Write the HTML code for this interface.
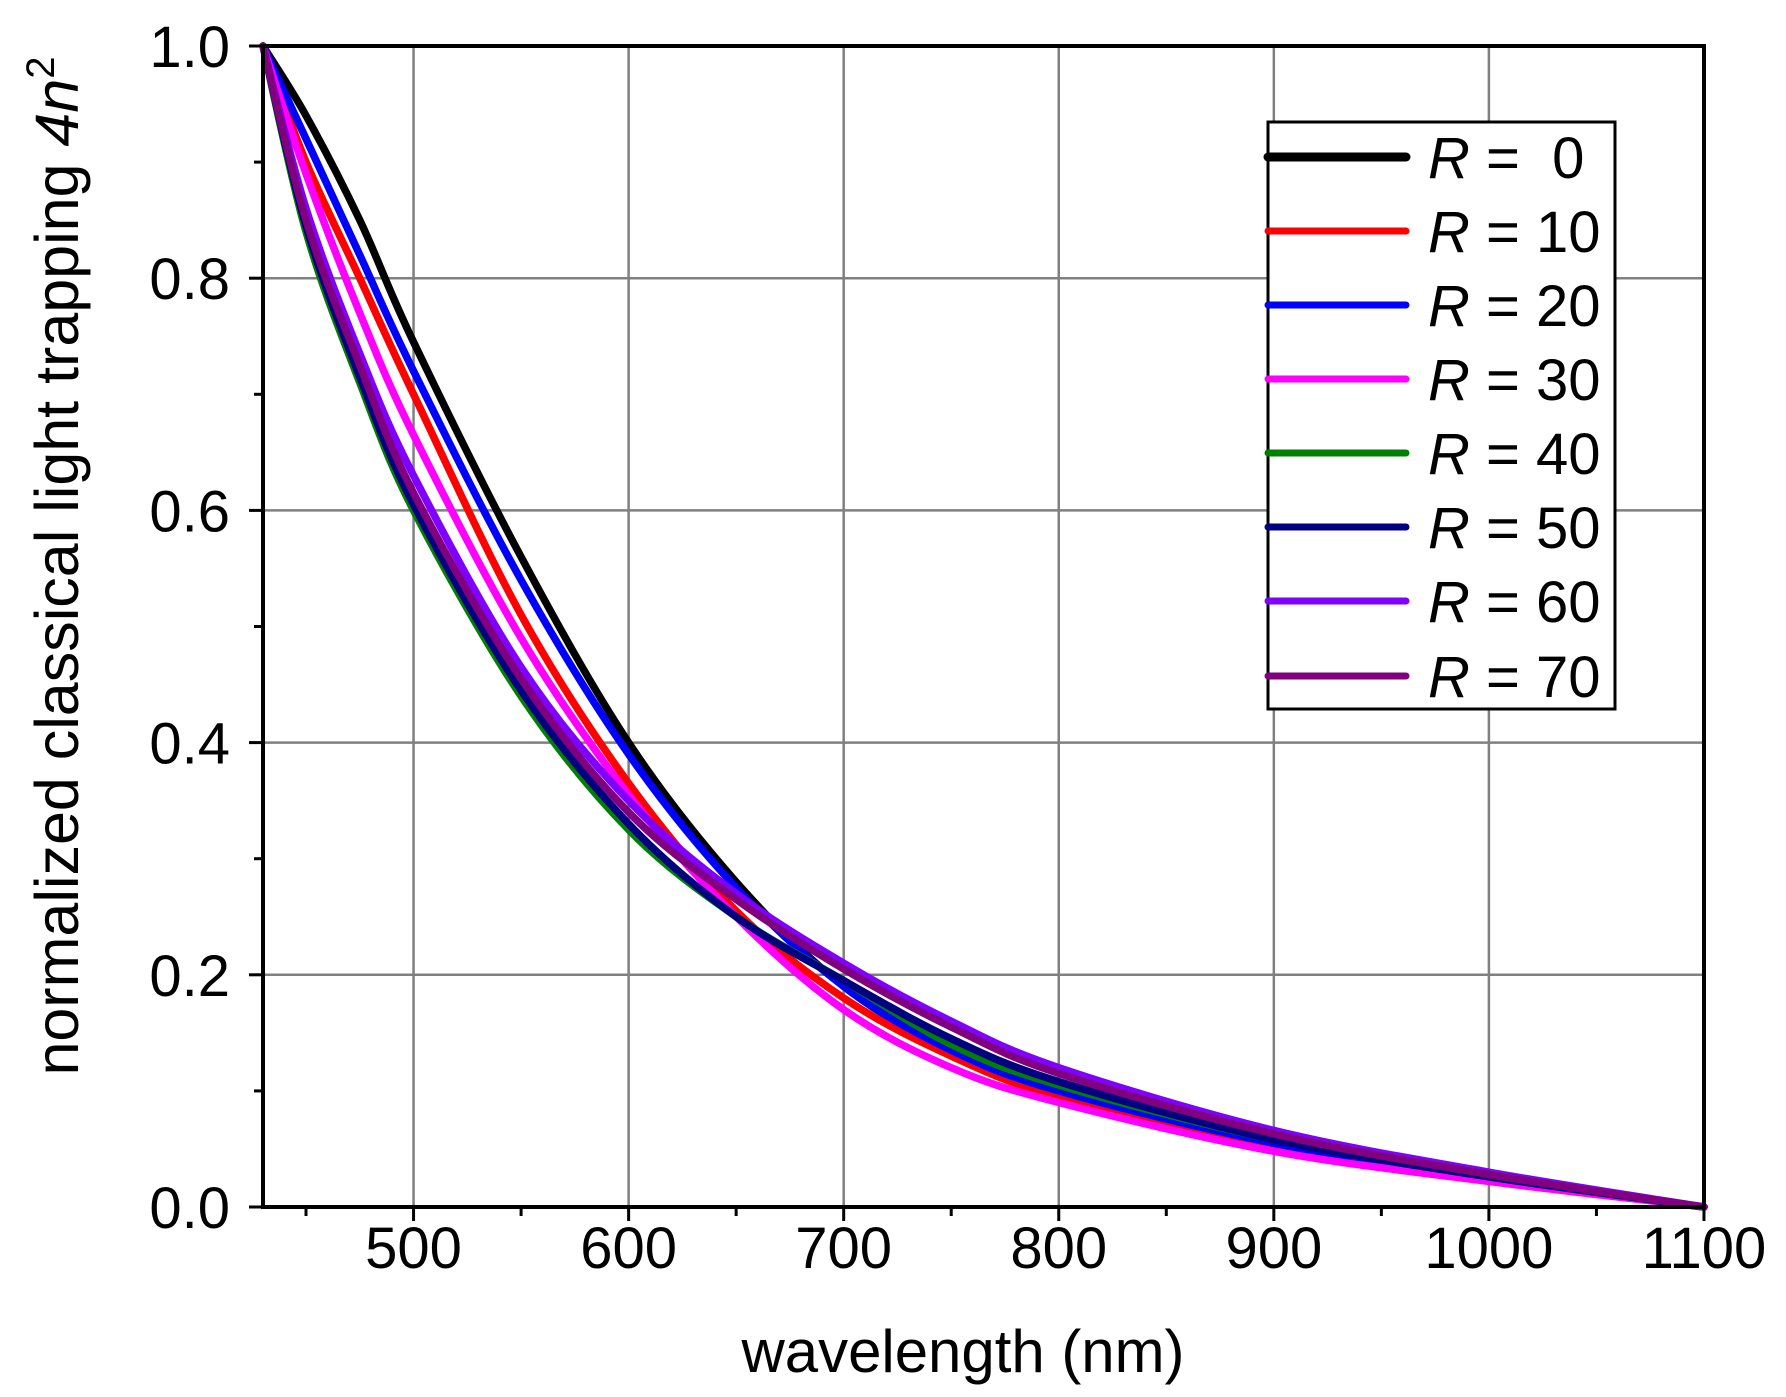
<!DOCTYPE html>
<html><head><meta charset="utf-8"><style>
html,body{margin:0;padding:0;background:#fff;}
svg{display:block;font-family:"Liberation Sans",sans-serif;}
</style></head><body>
<svg id="s" width="1786" height="1397" viewBox="0 0 1786 1397" xmlns="http://www.w3.org/2000/svg">
<g id="grid" stroke="#808080" stroke-width="2.5"></g>
<g id="curves" fill="none" stroke-width="7.5" stroke-linejoin="round" stroke-linecap="round"></g>
<g id="ticks" stroke="#000" stroke-width="3"></g>
<rect x="263" y="46" width="1441" height="1161" fill="none" stroke="#000" stroke-width="4"/>
<g id="labels" font-size="58" fill="#000"></g>
<text x="963" y="1372" font-size="60" text-anchor="middle" textLength="443" lengthAdjust="spacingAndGlyphs">wavelength (nm)</text>
<text transform="translate(78 566) rotate(-90)" font-size="61" text-anchor="middle">normalized classical light trapping <tspan font-style="italic">4n</tspan><tspan font-size="40" dy="-24">2</tspan></text>
<rect x="1268" y="122" width="347" height="587" fill="#fff" stroke="#000" stroke-width="3"/>
<g id="legend" font-size="58"></g>
</svg>
<script>
const X=w=>263+(w-430)*2.1507, Y=v=>1207-v*1161;
const ns="http://www.w3.org/2000/svg";
function el(p,t,a,txt){const e=document.createElementNS(ns,t);for(const k in a)e.setAttribute(k,a[k]);if(txt!=null)e.textContent=txt;document.getElementById(p).appendChild(e);return e;}
for(let w=500;w<=1000;w+=100)el('grid','line',{x1:X(w),x2:X(w),y1:46,y2:1207});
for(let v=0.2;v<1;v+=0.2)el('grid','line',{x1:263,x2:1704,y1:Y(v),y2:Y(v)});
for(let w=450;w<=1100;w+=50){const maj=w%100==0;el('ticks','line',{x1:X(w),x2:X(w),y1:1207,y2:1207+(maj?14:9)});}
for(let i=0;i<=10;i++){const v=i/10;const maj=i%2==0;el('ticks','line',{x1:263,x2:263-(maj?14:9),y1:Y(v),y2:Y(v)});}
for(let w=500;w<=1100;w+=100)el('labels','text',{x:X(w),y:1268,'text-anchor':'middle'},String(w));
for(let i=0;i<=5;i++)el('labels','text',{x:230,y:Y(i*0.2)+21,'text-anchor':'end'},(i*0.2).toFixed(1));
const W=[430,450,475,500,550,600,650,700,750,800,900,1000,1100];
const S=[
["#000","R =  0",[1,0.94,0.85,0.745,0.56,0.40,0.28,0.19,0.135,0.10,0.055,0.025,0]],
["#ff0000","R = 10",[1,0.90,0.80,0.70,0.51,0.365,0.255,0.18,0.13,0.095,0.052,0.024,0]],
["#0000ff","R = 20",[1,0.92,0.82,0.72,0.54,0.39,0.275,0.19,0.135,0.10,0.055,0.025,0]],
["#ff00ff","R = 30",[1,0.89,0.77,0.665,0.49,0.355,0.25,0.17,0.12,0.09,0.048,0.022,0]],
["#008000","R = 40",[1,0.84,0.71,0.60,0.44,0.325,0.25,0.195,0.14,0.105,0.058,0.026,0]],
["#000080","R = 50",[1,0.845,0.715,0.605,0.445,0.33,0.25,0.195,0.145,0.108,0.058,0.026,0]],
["#8000ff","R = 60",[1,0.86,0.735,0.63,0.465,0.35,0.27,0.21,0.16,0.12,0.066,0.03,0]],
["#800080","R = 70",[1,0.85,0.725,0.615,0.455,0.34,0.265,0.205,0.155,0.115,0.063,0.028,0]]];
const LY=[157,231,305,379,453,527,601,676];
S.forEach((s,k)=>{
 const P=W.map((w,i)=>[X(w),Y(s[2][i])]);
 let d="M"+P[0][0]+" "+P[0][1];
 for(let i=0;i<P.length-1;i++){const p0=P[Math.max(i-1,0)],p1=P[i],p2=P[i+1],p3=P[Math.min(i+2,P.length-1)];
  d+=` C${p1[0]+(p2[0]-p0[0])/6} ${p1[1]+(p2[1]-p0[1])/6} ${p2[0]-(p3[0]-p1[0])/6} ${p2[1]-(p3[1]-p1[1])/6} ${p2[0]} ${p2[1]}`;}
 el('curves','path',{d:d,stroke:s[0]});
 el('legend','line',{x1:1268,x2:1406,y1:LY[k],y2:LY[k],stroke:s[0],'stroke-width':k==0?9:7,'stroke-linecap':'round'});
 const t=el('legend','text',{x:1428,y:LY[k]+21});
 const r=document.createElementNS(ns,'tspan');r.setAttribute('font-style','italic');r.textContent='R';t.appendChild(r);
 const n=document.createElementNS(ns,'tspan');n.textContent=s[1].slice(1).replace('  ','\u00a0\u00a0');t.appendChild(n);
});
</script>
</body></html>
